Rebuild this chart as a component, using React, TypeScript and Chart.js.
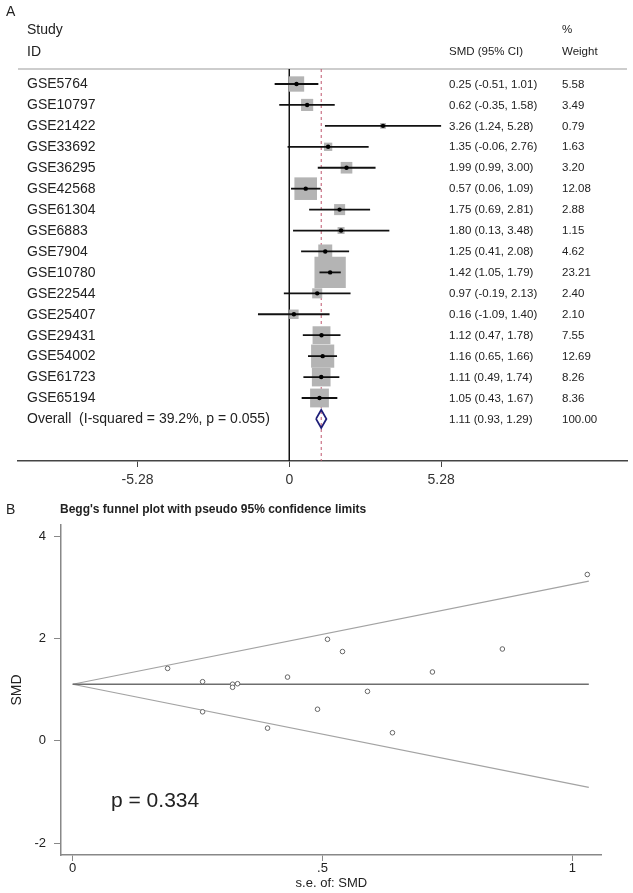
import React, { useEffect, useRef } from 'react';
import { Chart, registerables } from 'chart.js';

Chart.register(...registerables);

const FONT = "'Liberation Sans', Arial, Helvetica, sans-serif";

// ---------- Panel A: forest plot data ----------
const studies = [
  'GSE5764', 'GSE10797', 'GSE21422', 'GSE33692', 'GSE36295', 'GSE42568', 'GSE61304', 'GSE6883',
  'GSE7904', 'GSE10780', 'GSE22544', 'GSE25407', 'GSE29431', 'GSE54002', 'GSE61723', 'GSE65194',
];
const smd = [0.25, 0.62, 3.26, 1.35, 1.99, 0.57, 1.75, 1.80, 1.25, 1.42, 0.97, 0.16, 1.12, 1.16, 1.11, 1.05];
const ciLow = [-0.51, -0.35, 1.24, -0.06, 0.99, 0.06, 0.69, 0.13, 0.41, 1.05, -0.19, -1.09, 0.47, 0.65, 0.49, 0.43];
const ciHigh = [1.01, 1.58, 5.28, 2.76, 3.00, 1.09, 2.81, 3.48, 2.08, 1.79, 2.13, 1.40, 1.78, 1.66, 1.74, 1.67];
const weights = [5.58, 3.49, 0.79, 1.63, 3.20, 12.08, 2.88, 1.15, 4.62, 23.21, 2.40, 2.10, 7.55, 12.69, 8.26, 8.36];
const overallSMD = 1.11;
const overallLow = 0.93;
const overallHigh = 1.29;
const overallWeight = 100.0;
const iSquared = 39.2;
const pHeterogeneity = 0.055;
const forestTicks = [-5.28, 0, 5.28];

// ---------- Panel B: Begg's funnel plot data ----------
const funnelSE = [0.39, 0.49, 1.03, 0.72, 0.51, 0.26, 0.54, 0.86, 0.43, 0.19, 0.59, 0.64, 0.33, 0.26, 0.32, 0.32];
const funnelSMD = [0.25, 0.62, 3.26, 1.35, 1.99, 0.57, 1.75, 1.80, 1.25, 1.42, 0.97, 0.16, 1.12, 1.16, 1.11, 1.05];
const limitSE = [0, 1.033];
const upperLimit = [1.11, 3.13];
const lowerLimit = [1.11, -0.91];
const pooledLine = [1.11, 1.11];
const funnelTicksX = [0, 0.5, 1];
const funnelTickLabelsX = ['0', '.5', '1'];
const funnelTicksY = [-2, 0, 2, 4];
const beggP = 0.334;

const TEXT = '#222';

function forestConfig(): any {
  const rows = studies.length;
  const yMin = -0.717;
  const yMax = 18.01;
  const boxScale = 6.5; // px side per sqrt(weight)
  const diamondHalf = 0.43;

  const ciSets = studies.map((_, i) => ({
    type: 'line',
    data: [
      { x: ciLow[i], y: i },
      { x: ciHigh[i], y: i },
    ],
    borderColor: '#111',
    borderWidth: 1.8,
    pointRadius: 0,
    order: 4,
  }));

  const labelsPlugin = {
    id: 'forestLabels',
    beforeDatasetsDraw(chart: any) {
      const { ctx, chartArea } = chart;
      ctx.save();
      ctx.strokeStyle = '#cdcdcd';
      ctx.lineWidth = 2;
      ctx.beginPath();
      ctx.moveTo(chartArea.left, chartArea.top);
      ctx.lineTo(chartArea.right, chartArea.top);
      ctx.stroke();
      ctx.restore();
    },
    afterDraw(chart: any) {
      const { ctx } = chart;
      const y = chart.scales.y;
      ctx.save();
      ctx.fillStyle = TEXT;
      ctx.textBaseline = 'middle';
      ctx.textAlign = 'left';
      ctx.font = `14px ${FONT}`;
      ctx.fillText('A', 6, 12);
      ctx.fillText('Study', 27, 30);
      ctx.fillText('ID', 27, 52);
      studies.forEach((s, i) => ctx.fillText(s, 27, y.getPixelForValue(i) + 0.5));
      ctx.fillText(
        `Overall  (I-squared = ${iSquared.toFixed(1)}%, p = ${pHeterogeneity.toFixed(3)})`,
        27,
        y.getPixelForValue(rows) + 0.5,
      );
      ctx.font = `11.5px ${FONT}`;
      ctx.fillText('%', 562, 30);
      ctx.fillText('SMD (95% CI)', 449, 52);
      ctx.fillText('Weight', 562, 52);
      studies.forEach((_, i) => {
        const yy = y.getPixelForValue(i) + 0.5;
        ctx.fillText(`${smd[i].toFixed(2)} (${ciLow[i].toFixed(2)}, ${ciHigh[i].toFixed(2)})`, 449, yy);
        ctx.fillText(weights[i].toFixed(2), 562, yy);
      });
      const yo = y.getPixelForValue(rows) + 0.5;
      ctx.fillText(`${overallSMD.toFixed(2)} (${overallLow.toFixed(2)}, ${overallHigh.toFixed(2)})`, 449, yo);
      ctx.fillText(overallWeight.toFixed(2), 562, yo);
      ctx.restore();
    },
  };

  return {
    type: 'scatter',
    data: {
      datasets: [
        {
          type: 'line',
          data: [
            { x: 0, y: yMin },
            { x: 0, y: yMax },
          ],
          borderColor: '#111',
          borderWidth: 1,
          pointRadius: 0,
          order: 8,
        },
        {
          type: 'line',
          data: [
            { x: overallSMD, y: yMin },
            { x: overallSMD, y: yMax },
          ],
          borderColor: '#c0566e',
          borderWidth: 1,
          borderDash: [3, 3],
          pointRadius: 0,
          order: 7,
        },
        {
          type: 'scatter',
          data: studies.map((_, i) => ({ x: smd[i], y: i })),
          pointStyle: 'rect',
          pointRadius: weights.map((w) => (boxScale * Math.sqrt(w)) / Math.SQRT2),
          backgroundColor: '#b4b4b4',
          borderWidth: 0,
          order: 6,
        },
        ...ciSets,
        {
          type: 'scatter',
          data: studies.map((_, i) => ({ x: smd[i], y: i })),
          pointRadius: 2.2,
          backgroundColor: '#000',
          borderWidth: 0,
          order: 2,
        },
        {
          type: 'line',
          data: [
            { x: overallLow, y: rows },
            { x: overallSMD, y: rows - diamondHalf },
            { x: overallHigh, y: rows },
            { x: overallSMD, y: rows + diamondHalf },
            { x: overallLow, y: rows },
          ],
          borderColor: '#1e1e78',
          borderWidth: 1.8,
          pointRadius: 0,
          order: 1,
        },
      ],
    },
    options: {
      responsive: false,
      animation: false,
      devicePixelRatio: 1,
      layout: { autoPadding: false, padding: { left: 18, right: 6, top: 69, bottom: 9 } },
      plugins: { legend: { display: false }, tooltip: { enabled: false } },
      scales: {
        x: {
          type: 'linear',
          min: -9.437,
          max: 11.746,
          afterBuildTicks: (s: any) => {
            s.ticks = forestTicks.map((v) => ({ value: v }));
          },
          ticks: {
            font: { size: 14, family: FONT },
            color: '#333',
            padding: 5,
            autoSkip: false,
            maxRotation: 0,
            callback: (v: any) => String(v),
          },
          grid: { drawOnChartArea: false, drawTicks: true, tickLength: 6, color: '#444', lineWidth: 1 },
          border: { display: true, color: '#444', width: 1.5 },
          afterFit: (s: any) => {
            s.height = 30;
            s.paddingLeft = 0;
            s.paddingRight = 0;
          },
        },
        y: { type: 'linear', display: false, reverse: true, min: yMin, max: yMax },
      },
    },
    plugins: [labelsPlugin],
  };
}

function funnelConfig(): any {
  const textPlugin = {
    id: 'funnelText',
    afterDraw(chart: any) {
      const { ctx } = chart;
      ctx.save();
      ctx.fillStyle = TEXT;
      ctx.textAlign = 'left';
      ctx.textBaseline = 'middle';
      ctx.font = `14px ${FONT}`;
      ctx.fillText('B', 6, 10);
      ctx.font = `bold 12px ${FONT}`;
      ctx.fillText("Begg's funnel plot with pseudo 95% confidence limits", 60, 9.5);
      ctx.font = `21px ${FONT}`;
      ctx.textBaseline = 'alphabetic';
      ctx.fillText(`p = ${beggP.toFixed(3)}`, 111, 306.7);
      ctx.restore();
    },
  };

  return {
    type: 'scatter',
    data: {
      datasets: [
        {
          type: 'line',
          data: limitSE.map((x, i) => ({ x, y: upperLimit[i] })),
          borderColor: '#a3a3a3',
          borderWidth: 1.2,
          pointRadius: 0,
          order: 4,
        },
        {
          type: 'line',
          data: limitSE.map((x, i) => ({ x, y: lowerLimit[i] })),
          borderColor: '#a3a3a3',
          borderWidth: 1.2,
          pointRadius: 0,
          order: 4,
        },
        {
          type: 'line',
          data: limitSE.map((x, i) => ({ x, y: pooledLine[i] })),
          borderColor: '#6e6e6e',
          borderWidth: 1.5,
          pointRadius: 0,
          order: 3,
        },
        {
          type: 'scatter',
          data: funnelSE.map((x, i) => ({ x, y: funnelSMD[i] })),
          pointRadius: 2.3,
          borderColor: '#666',
          backgroundColor: 'rgba(255,255,255,1)',
          borderWidth: 1,
          order: 1,
        },
      ],
    },
    options: {
      responsive: false,
      animation: false,
      devicePixelRatio: 1,
      layout: { autoPadding: false, padding: { left: 0, right: 31.3, top: 25, bottom: 0 } },
      plugins: { legend: { display: false }, tooltip: { enabled: false } },
      scales: {
        x: {
          type: 'linear',
          min: -0.0234,
          max: 1.0588,
          afterBuildTicks: (s: any) => {
            s.ticks = funnelTicksX.map((v) => ({ value: v }));
          },
          ticks: {
            font: { size: 13, family: FONT },
            color: TEXT,
            padding: 0,
            autoSkip: false,
            maxRotation: 0,
            callback: (v: any) => funnelTickLabelsX[funnelTicksX.indexOf(v)] ?? String(v),
          },
          grid: { drawOnChartArea: false, drawTicks: true, tickLength: 6, color: '#888', lineWidth: 1 },
          border: { display: true, color: '#888', width: 1.5 },
          title: {
            display: true,
            text: 's.e. of: SMD',
            font: { size: 13, family: FONT },
            color: TEXT,
            padding: { top: 0, bottom: 2.2 },
          },
          afterFit: (s: any) => {
            s.height = 38;
            s.paddingLeft = 0;
            s.paddingRight = 0;
          },
        },
        y: {
          type: 'linear',
          min: -2.235,
          max: 4.229,
          afterBuildTicks: (s: any) => {
            s.ticks = funnelTicksY.map((v) => ({ value: v }));
          },
          ticks: {
            font: { size: 13, family: FONT },
            color: TEXT,
            padding: 8,
            autoSkip: false,
            callback: (v: any) => String(v),
          },
          grid: { drawOnChartArea: false, drawTicks: true, tickLength: 7, color: '#888', lineWidth: 1 },
          border: { display: true, color: '#888', width: 1.5 },
          title: {
            display: true,
            text: 'SMD',
            font: { size: 14, family: FONT },
            color: TEXT,
            padding: { top: 8.6, bottom: 0 },
          },
          afterFit: (s: any) => {
            s.width = 61;
            s.paddingTop = 0;
            s.paddingBottom = 0;
          },
        },
      },
    },
    plugins: [textPlugin],
  };
}

export default function App() {
  const forestRef = useRef<HTMLCanvasElement>(null);
  const funnelRef = useRef<HTMLCanvasElement>(null);

  useEffect(() => {
    Chart.defaults.font.family = FONT;
    const c1 = new Chart(forestRef.current as HTMLCanvasElement, forestConfig());
    const c2 = new Chart(funnelRef.current as HTMLCanvasElement, funnelConfig());
    return () => {
      c1.destroy();
      c2.destroy();
    };
  }, []);

  return (
    <div style={{ position: 'absolute', left: 0, top: 0, width: 633, height: 893, background: '#fff' }}>
      <canvas
        ref={forestRef}
        width={633}
        height={500}
        style={{ position: 'absolute', left: 0, top: 0, width: 633, height: 500 }}
      />
      <canvas
        ref={funnelRef}
        width={633}
        height={393}
        style={{ position: 'absolute', left: 0, top: 500, width: 633, height: 393 }}
      />
    </div>
  );
}
